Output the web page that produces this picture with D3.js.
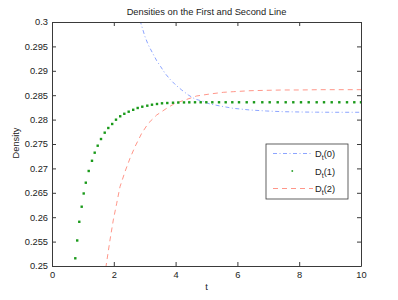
<!DOCTYPE html>
<html>
<head>
<meta charset="utf-8">
<script src="https://cdn.jsdelivr.net/npm/d3@7"></script>
<style>
  body { margin: 0; background: #fff; }
  svg { display: block; font-family: "Liberation Sans", Arial, sans-serif; }
</style>
</head>
<body>
<div id="chart"></div>
<script>
// values
const xTicks = [0, 2, 4, 6, 8, 10];
const xTickLabels = ["0", "2", "4", "6", "8", "10"];
const yTicks = [0.25, 0.255, 0.26, 0.265, 0.27, 0.275, 0.28, 0.285, 0.29, 0.295, 0.3];
const yTickLabels = ["0.25", "0.255", "0.26", "0.265", "0.27", "0.275", "0.28", "0.285", "0.29", "0.295", "0.3"];

// D_t(0)
const t0 = [2.85, 2.903, 3.010, 3.117, 3.259, 3.388, 3.518, 3.657, 3.819, 4.003, 4.197, 4.411, 4.628, 4.845, 5.113, 5.437, 5.858, 6.408, 6.948, 7.476, 8.026, 8.566, 9.094, 10];
const d0 = [0.3003, 0.29918, 0.29699, 0.29529, 0.29359, 0.29207, 0.29084, 0.28949, 0.28826, 0.28709, 0.28607, 0.28504, 0.28422, 0.28381, 0.28320, 0.28279, 0.28232, 0.28197, 0.28176, 0.28162, 0.28156, 0.28152, 0.28150, 0.28150];

// D_t(1)
const t1 = [0.754, 0.816, 0.883, 0.961, 1.026, 1.094, 1.188, 1.294, 1.382, 1.479, 1.586, 1.706, 1.822, 1.948, 2.071, 2.207, 2.340, 2.482, 2.628, 2.773, 2.922, 3.084, 3.236, 3.398, 3.560, 3.731, 3.916, 4.087, 4.272, 4.443, 4.628, 4.812, 4.994, 5.188, 5.405, 5.621, 5.835, 6.052, 6.301, 6.537, 6.806, 7.045, 7.304, 7.563, 7.809, 8.058, 8.307, 8.566, 8.803, 9.052, 9.298, 9.547, 9.783, 10];
const d1 = [0.25158, 0.25523, 0.25906, 0.26215, 0.26486, 0.26707, 0.26947, 0.27156, 0.27322, 0.27465, 0.27602, 0.27732, 0.27828, 0.27910, 0.27998, 0.28068, 0.28119, 0.28162, 0.28201, 0.28238, 0.28264, 0.28285, 0.28305, 0.28320, 0.28334, 0.28340, 0.28346, 0.28350, 0.28352, 0.28354, 0.28355, 0.28355, 0.28355, 0.28355, 0.28355, 0.28355, 0.28355, 0.28355, 0.28355, 0.28355, 0.28355, 0.28355, 0.28355, 0.28355, 0.28355, 0.28355, 0.28355, 0.28355, 0.28355, 0.28355, 0.28355, 0.28355, 0.28355, 0.28355];

// D_t(2)
const t2 = [1.74, 1.877, 1.984, 2.094, 2.201, 2.362, 2.524, 2.686, 2.903, 3.117, 3.388, 3.712, 3.981, 4.142, 4.683, 5.113, 5.544, 5.867, 6.408, 6.948, 7.485, 8.026, 8.673, 10];
const d2 = [0.2496, 0.25533, 0.25943, 0.26285, 0.26625, 0.26932, 0.27207, 0.27445, 0.27719, 0.27924, 0.28094, 0.28232, 0.28334, 0.28367, 0.28484, 0.28525, 0.28559, 0.28572, 0.28592, 0.28600, 0.28607, 0.28607, 0.28613, 0.28613];

const legendLabels = ["0", "1", "2"];

const W = 398, H = 300;
const margin = { top: 22, right: 37, bottom: 34, left: 52 };
const axisColor = "#3a3a3a";
const blue = "#6f8dff", green = "#1a9a1a", red = "#ff7b6b";

const svg = d3.select("#chart").append("svg")
  .attr("width", W)
  .attr("height", H);

const x = d3.scaleLinear().domain([0, 10]).range([margin.left, W - margin.right]);
const y = d3.scaleLinear().domain([0.25, 0.3]).range([H - margin.bottom, margin.top]);

svg.append("clipPath").attr("id", "plot")
  .append("rect")
  .attr("x", x(0)).attr("y", y(0.3))
  .attr("width", x(10) - x(0)).attr("height", y(0.25) - y(0.3));

const line = d3.line().x(d => x(d[0])).y(d => y(d[1]));

const plot = svg.append("g").attr("clip-path", "url(#plot)");

plot.append("path")
  .attr("d", line(t0.map((t, i) => [t, d0[i]])))
  .attr("fill", "none")
  .attr("stroke", blue)
  .attr("stroke-width", 0.8)
  .attr("stroke-dasharray", "4,2.5,1,2.5");

plot.append("path")
  .attr("d", line(t2.map((t, i) => [t, d2[i]])))
  .attr("fill", "none")
  .attr("stroke", red)
  .attr("stroke-width", 0.8)
  .attr("stroke-dasharray", "5,4");

plot.selectAll(".dot")
  .data(t1.map((t, i) => [t, d1[i]]))
  .enter().append("rect")
  .attr("class", "dot")
  .attr("x", d => x(d[0]) - 1.2)
  .attr("y", d => y(d[1]) - 1.2)
  .attr("width", 2.4)
  .attr("height", 2.4)
  .attr("fill", green);

// axes, matlab style box with inward ticks
const styleAxis = g => {
  g.select(".domain").attr("stroke", axisColor);
  g.selectAll(".tick line").attr("stroke", axisColor);
  g.selectAll(".tick text").attr("fill", "#222").style("font-size", "9.3px");
};

svg.append("g")
  .attr("transform", "translate(0," + y(0.25) + ")")
  .call(d3.axisBottom(x).tickValues(xTicks).tickFormat((d, i) => xTickLabels[i])
    .tickSizeInner(-4).tickSizeOuter(0).tickPadding(5))
  .call(styleAxis);

svg.append("g")
  .attr("transform", "translate(0," + y(0.3) + ")")
  .call(d3.axisTop(x).tickValues(xTicks).tickFormat("").tickSizeInner(-4).tickSizeOuter(0))
  .call(styleAxis);

svg.append("g")
  .attr("transform", "translate(" + x(0) + ",0)")
  .call(d3.axisLeft(y).tickValues(yTicks).tickFormat((d, i) => yTickLabels[i])
    .tickSizeInner(-4).tickSizeOuter(0).tickPadding(4))
  .call(styleAxis);

svg.append("g")
  .attr("transform", "translate(" + x(10) + ",0)")
  .call(d3.axisRight(y).tickValues(yTicks).tickFormat("").tickSizeInner(-4).tickSizeOuter(0))
  .call(styleAxis);

// labels
svg.append("text")
  .attr("x", (x(0) + x(10)) / 2)
  .attr("y", 15)
  .attr("text-anchor", "middle")
  .style("font-size", "9.3px")
  .attr("fill", "#222")
  .text("Densities on the First and Second Line");

svg.append("text")
  .attr("x", (x(0) + x(10)) / 2)
  .attr("y", 290)
  .attr("text-anchor", "middle")
  .style("font-size", "9.3px")
  .attr("fill", "#222")
  .text("t");

svg.append("text")
  .attr("transform", "translate(19," + (y(0.275) - 1) + ") rotate(-90)")
  .attr("text-anchor", "middle")
  .style("font-size", "9.3px")
  .attr("fill", "#222")
  .text("Density");

// legend
const legend = svg.append("g").attr("transform", "translate(266,144)");

legend.append("rect")
  .attr("width", 82)
  .attr("height", 55)
  .attr("fill", "#fff")
  .attr("stroke", axisColor)
  .attr("stroke-width", 0.8);

const rows = legend.selectAll(".row")
  .data(legendLabels)
  .enter().append("g")
  .attr("class", "row")
  .attr("transform", (d, i) => "translate(0," + (9.5 + i * 17.5) + ")");

rows.filter((d, i) => i === 0).append("line")
  .attr("x1", 7).attr("x2", 47)
  .attr("stroke", blue).attr("stroke-width", 0.8)
  .attr("stroke-dasharray", "4,2.5,1,2.5");

rows.filter((d, i) => i === 1).append("rect")
  .attr("x", 25.5).attr("y", -0.8)
  .attr("width", 1.6).attr("height", 1.6)
  .attr("fill", green);

rows.filter((d, i) => i === 2).append("line")
  .attr("x1", 7).attr("x2", 47)
  .attr("stroke", red).attr("stroke-width", 0.8)
  .attr("stroke-dasharray", "5,4");

const lt = rows.append("text")
  .attr("x", 49)
  .attr("y", 3.5)
  .style("font-size", "9.3px")
  .attr("fill", "#222");

lt.append("tspan").text("D");
lt.append("tspan").attr("dy", 3).style("font-size", "7px").text("t");
lt.append("tspan").attr("dy", -3).text(d => "(" + d + ")");
</script>
</body>
</html>
